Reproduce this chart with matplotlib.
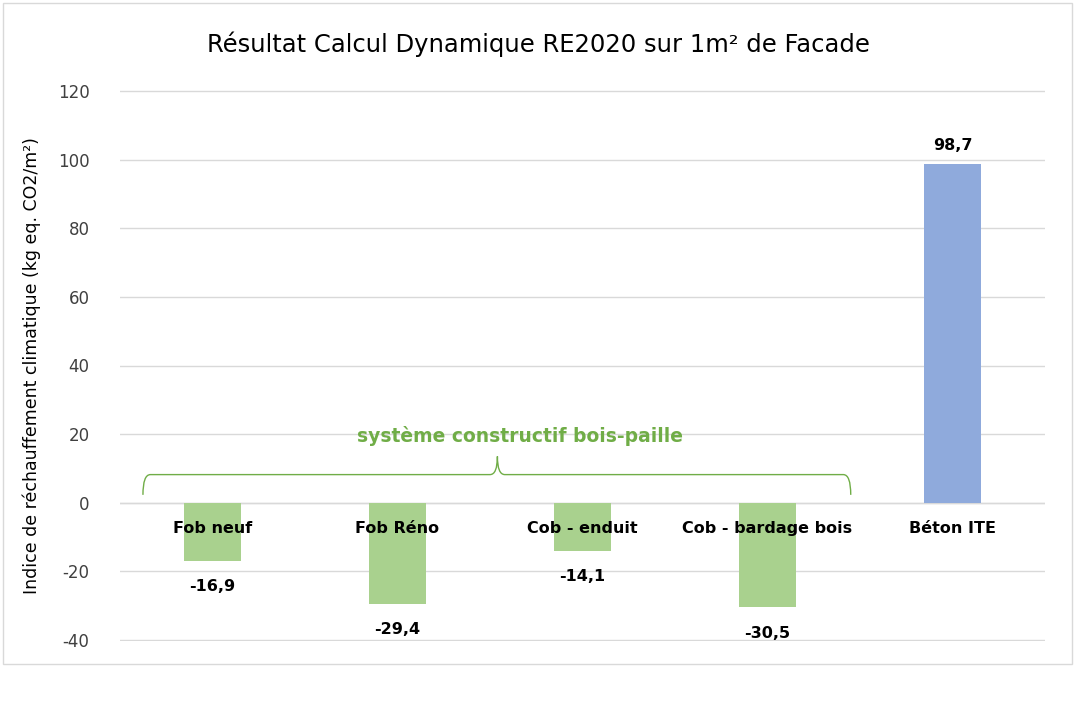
import matplotlib
matplotlib.use("Agg")
import matplotlib.pyplot as plt
from matplotlib.path import Path
from matplotlib.patches import PathPatch, Rectangle

categories = ["Fob neuf", "Fob Réno", "Cob - enduit", "Cob - bardage bois", "Béton ITE"]
values = [-16.9, -29.4, -14.1, -30.5, 98.7]
colors = ["#A9D18E", "#A9D18E", "#A9D18E", "#A9D18E", "#8FAADC"]
yticks = [-40, -20, 0, 20, 40, 60, 80, 100, 120]

fig = plt.figure(figsize=(10.77, 7.12), dpi=100)
fig.patches.append(Rectangle((3/1077, 48/712), 1069/1077, 661/712, transform=fig.transFigure,
                             fill=False, edgecolor="#D9D9D9", linewidth=1))
ax = fig.add_axes([120/1077, 71/712, 925/1077, 551/712])
x = list(range(len(categories)))
ax.bar(x, values, width=0.31, color=colors, zorder=3)
ax.set_xlim(-0.5, 4.5)
ax.set_ylim(-40.3, 120.3)
ax.set_yticks(yticks)
ax.set_yticklabels([str(t) for t in yticks], fontsize=12, color="#404040")
ax.tick_params(axis="y", length=0, pad=22)
ax.set_xticks([])
ax.grid(axis="y", color="#D9D9D9", linewidth=1, zorder=0)
for s in ax.spines.values():
    s.set_visible(False)
ax.axhline(0, color="#D9D9D9", linewidth=1, zorder=1)
ax.set_ylabel("Indice de réchauffement climatique (kg eq. CO2/m²)", fontsize=12.5, color="#000000", labelpad=12)

for xi, c, v in zip(x, categories, values):
    ax.text(xi, -7.5, c, ha="center", va="center", fontsize=11.5, fontweight="bold", color="#000000", zorder=4)
    lab = f"{v:.1f}".replace(".", ",")
    if v < 0:
        ax.text(xi, v - 7.5, lab, ha="center", va="center", fontsize=11.5, fontweight="bold")
    else:
        ax.text(xi, v + 5.5, lab, ha="center", va="center", fontsize=11.5, fontweight="bold")

# brace
x0, x1, xm = -0.376, 3.45, 1.54
yb, yt, ytip = 2.3, 8.2, 13.5
dx = 0.04
verts = [(x0, yb), (x0, yt), (x0 + dx, yt),
         (xm - dx, yt), (xm, yt), (xm, ytip),
         (xm, yt), (xm + dx, yt),
         (x1 - dx, yt), (x1, yt), (x1, yb)]
codes = [Path.MOVETO, Path.CURVE3, Path.CURVE3,
         Path.LINETO, Path.CURVE3, Path.CURVE3,
         Path.CURVE3, Path.CURVE3,
         Path.LINETO, Path.CURVE3, Path.CURVE3]
ax.add_patch(PathPatch(Path(verts, codes), fill=False, edgecolor="#70AD47", linewidth=1, zorder=4))
ax.text(1.66, 19.5, "système constructif bois-paille", ha="center", va="center",
        fontsize=13.5, fontweight="bold", color="#70AD47")

fig.text(538/1077, 1 - 44/712, "Résultat Calcul Dynamique RE2020 sur 1m² de Facade",
         ha="center", va="center", fontsize=17.5, color="#000000")
fig.savefig("out.png", dpi=100)
